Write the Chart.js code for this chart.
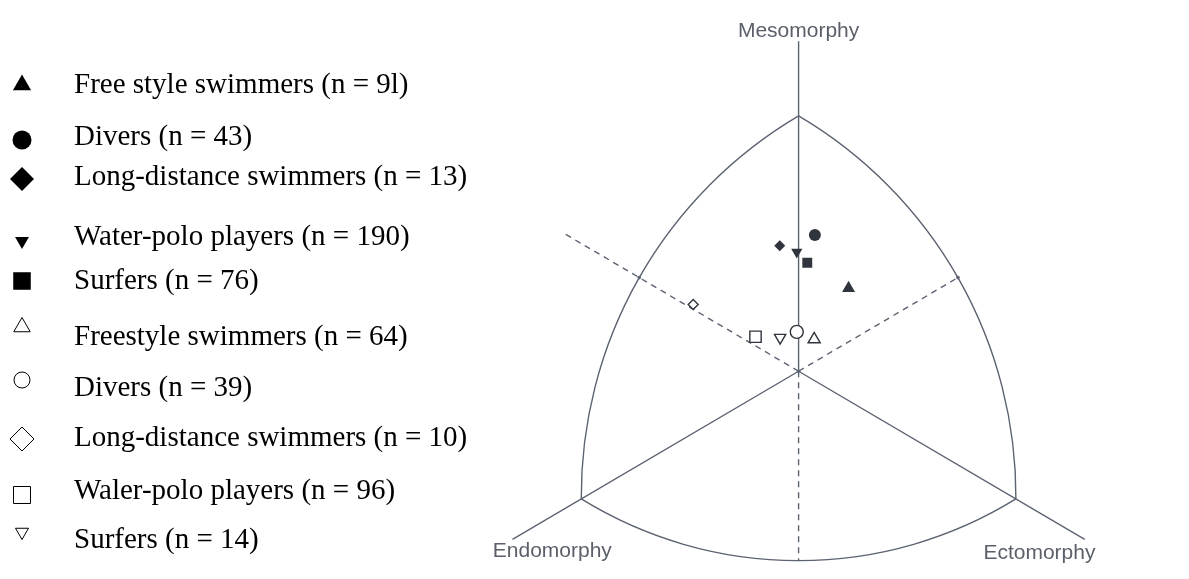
<!DOCTYPE html>
<html>
<head>
<meta charset="utf-8">
<script src="https://cdn.jsdelivr.net/npm/chart.js@4.4.1/dist/chart.umd.min.js"></script>
<style>
  html, body { margin: 0; padding: 0; background: #fff; }
  #wrap { width: 1189px; height: 579px; }
</style>
</head>
<body>
<div id="wrap"><canvas id="somatoChart" width="1189" height="579"></canvas></div>
<script>
/* DATOS */

const groupLabels = [
  'Free style swimmers (n = 9l)',
  'Divers (n = 43)',
  'Long-distance swimmers (n = 13)',
  'Water-polo players (n = 190)',
  'Surfers (n = 76)',
  'Freestyle swimmers (n = 64)',
  'Divers (n = 39)',
  'Long-distance swimmers (n = 10)',
  'Waler-polo players (n = 96)',
  'Surfers (n = 14)'
];

// somatopoint: X = ecto - endo, Y = 2*meso - (endo + ecto)
const somatoX = [1.38, 0.45, -0.52, -0.05, 0.24, 0.43, -0.05, -2.91, -1.19, -0.51];
const somatoY = [3.9, 6.4, 5.9, 5.6, 5.1, 1.5, 1.85, 3.14, 1.62, 1.58];

const markerShapes = ['triangle', 'circle', 'rectRot', 'triangle', 'rect', 'triangle', 'circle', 'rectRot', 'rect', 'triangle'];
const markerRotation = [0, 0, 0, 180, 0, 0, 0, 0, 0, 180];
const markerFilled = [true, true, true, true, true, false, false, false, false, false];

// somatochart frame (in X / Y units)
const vertexMeso = [0, 12];
const vertexEndo = [-6, -6];
const vertexEcto = [6, -6];
const arcMidLeft = [-4.4, 4.4];
const arcMidRight = [4.4, 4.4];
const arcMidBottom = [0, -8.9];
const axisTopY = 15.5;
const dashLeftEnd = [-6.5, 6.5];
const solidLeftEnd = [-7.9, -7.9];
const solidRightEnd = [7.9, -7.9];

const axisNames = ['Mesomorphy', 'Endomorphy', 'Ectomorphy'];
const axisNamePos = [[0, 15.7], [-6.8, -8.75], [6.65, -8.8]];

/* ESTILO */

const markColor = '#30343c';
const frameColor = '#5b6270';
const chartRadius = [7.5, 6, 5.5, 6.5, 7, 7, 6.5, 5, 8, 6.5];
const legendRadius = [10.5, 9.5, 12, 8, 12.4, 9.5, 8, 12, 12, 7.5];
const legendTextY = [85, 137, 177, 237, 281, 337, 388, 438, 491, 540];
const legendMarkY = [85, 140, 179, 241, 281, 327, 380, 439, 495, 532];

/* PLUGINS */

const fondo = {
  id: 'fondo',
  beforeDraw(chart) {
    const ctx = chart.ctx;
    ctx.save();
    ctx.fillStyle = '#ffffff';
    ctx.fillRect(0, 0, chart.width, chart.height);
    ctx.restore();
  }
};

function arcThrough(ctx, p1, p2, p3) {
  const [x1, y1] = p1, [x2, y2] = p2, [x3, y3] = p3;
  const d = 2 * (x1 * (y2 - y3) + x2 * (y3 - y1) + x3 * (y1 - y2));
  const s1 = x1 * x1 + y1 * y1, s2 = x2 * x2 + y2 * y2, s3 = x3 * x3 + y3 * y3;
  const cx = (s1 * (y2 - y3) + s2 * (y3 - y1) + s3 * (y1 - y2)) / d;
  const cy = (s1 * (x3 - x2) + s2 * (x1 - x3) + s3 * (x2 - x1)) / d;
  const r = Math.hypot(x1 - cx, y1 - cy);
  const a1 = Math.atan2(y1 - cy, x1 - cx);
  const a2 = Math.atan2(y2 - cy, x2 - cx);
  const a3 = Math.atan2(y3 - cy, x3 - cx);
  const norm = a => ((a % (2 * Math.PI)) + 2 * Math.PI) % (2 * Math.PI);
  const ccw = norm(a2 - a1) > norm(a3 - a1);
  ctx.beginPath();
  ctx.arc(cx, cy, r, a1, a3, ccw);
  ctx.stroke();
}

const somatochart = {
  id: 'somatochart',
  beforeDatasetsDraw(chart) {
    const ctx = chart.ctx;
    const sx = chart.scales.x, sy = chart.scales.y;
    const px = p => [sx.getPixelForValue(p[0]), sy.getPixelForValue(p[1])];

    const line = (a, b, dash) => {
      const pa = px(a), pb = px(b);
      ctx.setLineDash(dash || []);
      ctx.beginPath();
      ctx.moveTo(pa[0], pa[1]);
      ctx.lineTo(pb[0], pb[1]);
      ctx.stroke();
    };

    ctx.save();
    ctx.strokeStyle = frameColor;
    ctx.lineWidth = 1.4;

    // ejes
    line([0, axisTopY], [0, 0]);
    line([0, 0], solidLeftEnd);
    line([0, 0], solidRightEnd);
    line([0, 0], arcMidBottom, [6, 5]);
    line([0, 0], dashLeftEnd, [6, 5]);
    line([0, 0], arcMidRight, [6, 5]);

    // arcos
    ctx.setLineDash([]);
    arcThrough(ctx, px(vertexMeso), px(arcMidLeft), px(vertexEndo));
    arcThrough(ctx, px(vertexMeso), px(arcMidRight), px(vertexEcto));
    arcThrough(ctx, px(vertexEndo), px(arcMidBottom), px(vertexEcto));

    // marcas donde las discontinuas cortan los arcos
    ctx.fillStyle = frameColor;
    [arcMidLeft, arcMidRight, [0, 0]].forEach(p => {
      const q = px(p);
      ctx.beginPath();
      ctx.arc(q[0], q[1], 1.8, 0, 2 * Math.PI);
      ctx.fill();
    });

    // nombres
    ctx.fillStyle = '#5a5f69';
    ctx.font = '21px "Liberation Sans", Arial, sans-serif';
    ctx.textAlign = 'center';
    ctx.textBaseline = 'alphabetic';
    axisNames.forEach((name, i) => {
      const p = px(axisNamePos[i]);
      ctx.fillText(name, p[0], p[1]);
    });
    ctx.restore();
  }
};

const leyenda = {
  id: 'leyenda',
  afterDraw(chart) {
    const ctx = chart.ctx;
    ctx.save();
    chart.data.datasets.forEach((ds, i) => {
      ctx.fillStyle = markerFilled[i] ? '#000000' : '#ffffff';
      ctx.strokeStyle = '#000000';
      Chart.helpers.drawPoint(ctx, {
        pointStyle: markerShapes[i],
        rotation: markerRotation[i],
        radius: legendRadius[i],
        borderWidth: markerFilled[i] ? 0 : 1.7
      }, 22, legendMarkY[i]);
      ctx.fillStyle = '#000000';
      ctx.font = '29px "Liberation Serif", "Times New Roman", serif';
      ctx.textAlign = 'left';
      ctx.textBaseline = 'middle';
      ctx.fillText(ds.label, 74, legendTextY[i]);
    });
    ctx.restore();
  }
};

/* GRAFICO */

const datasets = groupLabels.map((label, i) => ({
  label: label,
  data: [{ x: somatoX[i], y: somatoY[i] }],
  pointStyle: markerShapes[i],
  rotation: markerRotation[i],
  pointRadius: chartRadius[i],
  backgroundColor: markerFilled[i] ? markColor : '#ffffff',
  borderColor: markColor,
  borderWidth: markerFilled[i] ? 0 : 1.4
}));

new Chart(document.getElementById('somatoChart'), {
  type: 'scatter',
  data: { datasets: datasets },
  options: {
    responsive: false,
    animation: false,
    layout: { padding: 0 },
    plugins: {
      legend: { display: false },
      tooltip: { enabled: false }
    },
    scales: {
      x: { type: 'linear', display: false, min: -21.79, max: 10.52 },
      y: { type: 'linear', display: false, min: -9.32, max: 17.0 }
    }
  },
  plugins: [fondo, somatochart, leyenda]
});
</script>
</body>
</html>
